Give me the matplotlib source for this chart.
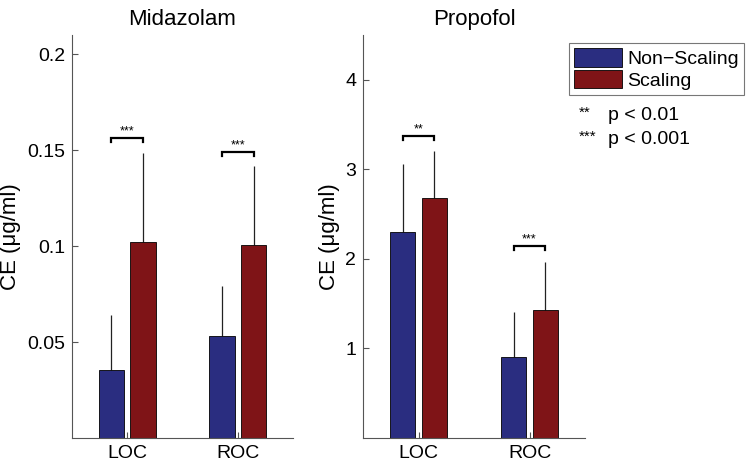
import numpy as np
import matplotlib
matplotlib.use("Agg")
import matplotlib.pyplot as plt
from matplotlib.patches import Patch

plt.rcParams['font.family'] = ['Liberation Sans', 'DejaVu Sans']

groups = ['LOC', 'ROC']

# Midazolam CE (ug/ml): mean and upper SD
mida_nonscaling = [0.0356, 0.0533]
mida_nonscaling_sd = [0.0286, 0.0260]
mida_scaling = [0.1021, 0.1007]
mida_scaling_sd = [0.0463, 0.0408]
mida_sig_y = [0.1564, 0.1488]
mida_sig = ['***', '***']

# Propofol CE (ug/ml)
prop_nonscaling = [2.30, 0.907]
prop_nonscaling_sd = [0.76, 0.50]
prop_scaling = [2.68, 1.43]
prop_scaling_sd = [0.52, 0.54]
prop_sig_y = [3.375, 2.14]
prop_sig = ['**', '***']

blue = '#2a2d80'
red = '#7f1417'
W, H = 747, 463


def draw_panel(ax, title, nons, nons_sd, scal, scal_sd, sig_y, sig, ylim, yticks, yticklabels, brk):
    x = np.arange(1, len(groups) + 1)
    off = 0.143
    w = 0.23
    ax.bar(x - off, nons, w, color=blue, edgecolor='black', linewidth=0.6, zorder=2)
    ax.bar(x + off, scal, w, color=red, edgecolor='black', linewidth=0.6, zorder=2)
    ax.errorbar(x - off, nons, yerr=[np.zeros(len(x)), nons_sd], fmt='none',
                ecolor='#222222', elinewidth=0.9, capsize=0, zorder=1)
    ax.errorbar(x + off, scal, yerr=[np.zeros(len(x)), scal_sd], fmt='none',
                ecolor='#222222', elinewidth=0.9, capsize=0, zorder=1)
    for xi, yi, s in zip(x, sig_y, sig):
        ax.plot([xi - off, xi - off, xi + off, xi + off],
                [yi - brk, yi, yi, yi - brk], color='black', lw=1.6,
                solid_joinstyle='miter', clip_on=False)
        ax.text(xi, yi + brk * 0.2, s, ha='center', va='bottom', fontsize=9)
    ax.set_xlim(0.5, 2.5)
    ax.set_ylim(*ylim)
    ax.set_xticks(x)
    ax.set_xticklabels(groups)
    ax.set_yticks(yticks)
    ax.set_yticklabels(yticklabels)
    ax.spines['top'].set_visible(False)
    ax.spines['right'].set_visible(False)
    for sp in ['left', 'bottom']:
        ax.spines[sp].set_color('#555555')
        ax.spines[sp].set_linewidth(0.8)
    ax.tick_params(direction='in', length=4, width=0.8, color='#555555',
                   labelsize=14, pad=5)
    ax.set_ylabel('CE (μg/ml)', fontsize=16, labelpad=4)
    ax.set_title(title, fontsize=16, pad=7)


fig = plt.figure(figsize=(W / 100, H / 100), dpi=100)
ax1 = fig.add_axes([72 / W, 25 / H, 221 / W, 403 / H])
ax2 = fig.add_axes([363 / W, 25 / H, 222 / W, 403 / H])

draw_panel(ax1, 'Midazolam', mida_nonscaling, mida_nonscaling_sd, mida_scaling,
           mida_scaling_sd, mida_sig_y, mida_sig, (0, 0.21),
           [0.05, 0.1, 0.15, 0.2], ['0.05', '0.1', '0.15', '0.2'], 0.002)
draw_panel(ax2, 'Propofol', prop_nonscaling, prop_nonscaling_sd, prop_scaling,
           prop_scaling_sd, prop_sig_y, prop_sig, (0, 4.5),
           [1, 2, 3, 4], ['1', '2', '3', '4'], 0.045)

handles = [Patch(facecolor=blue, edgecolor='black', linewidth=0.6),
           Patch(facecolor=red, edgecolor='black', linewidth=0.6)]
leg = fig.legend(handles, ['Non\u2212Scaling', 'Scaling'], loc='upper left',
                 bbox_to_anchor=(569 / W, 1 - 43 / H), fontsize=14,
                 frameon=True, fancybox=False, handlelength=2.5, handleheight=1.1,
                 handletextpad=0.25, borderpad=0.25, labelspacing=0.1,
                 borderaxespad=0)
leg.get_frame().set_edgecolor('#555555')
leg.get_frame().set_linewidth(0.8)

fig.text(579 / W, 1 - 113 / H, '**', fontsize=11, va='center')
fig.text(608 / W, 1 - 115 / H, 'p < 0.01', fontsize=14, va='center')
fig.text(579 / W, 1 - 137 / H, '***', fontsize=11, va='center')
fig.text(608 / W, 1 - 139 / H, 'p < 0.001', fontsize=14, va='center')

fig.savefig('out.png', dpi=100)
